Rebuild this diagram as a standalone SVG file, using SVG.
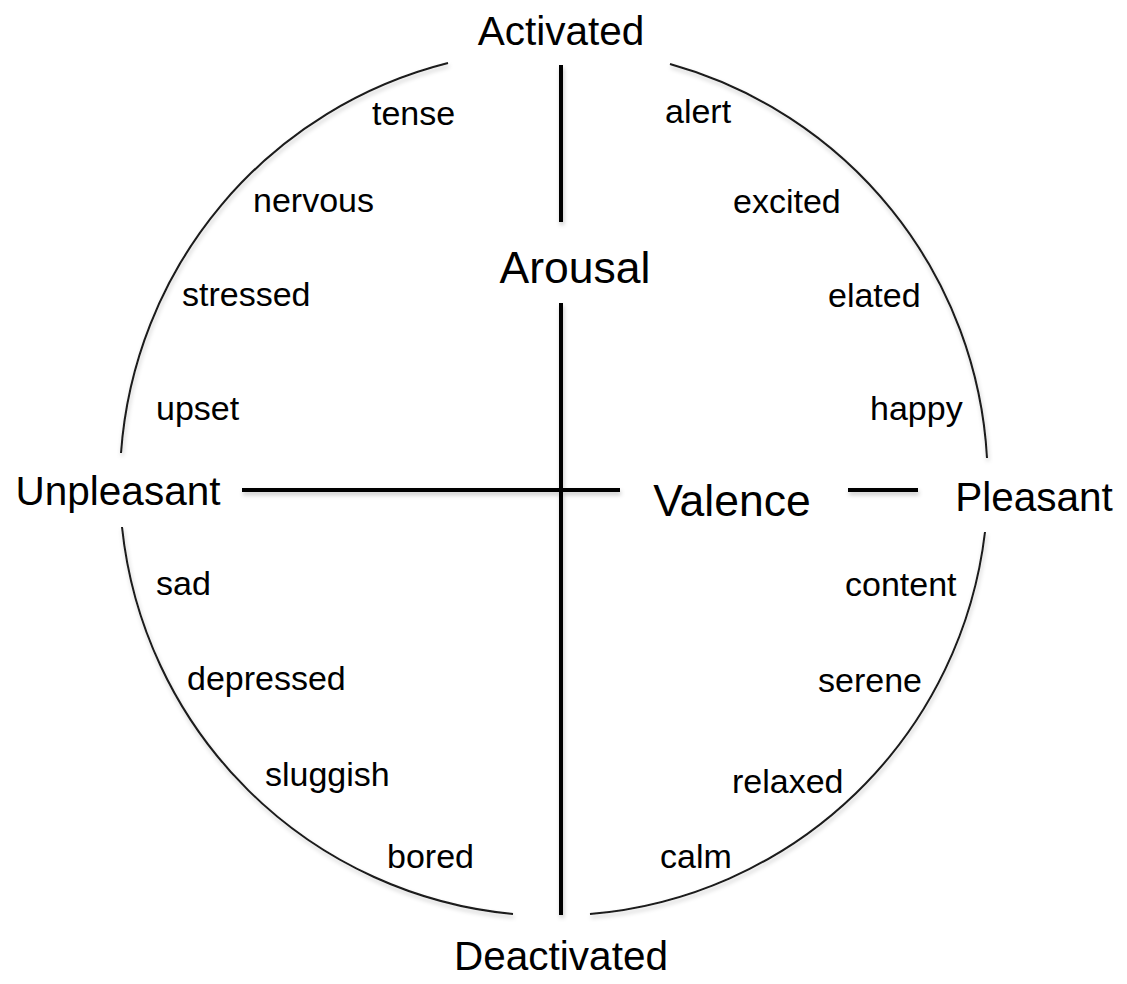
<svg xmlns="http://www.w3.org/2000/svg" width="1127" height="984" viewBox="0 0 1127 984">
<style>
text{font-family:"Liberation Sans",Arial,sans-serif;fill:#000}
.w{font-size:34px}
.pole{font-size:40.5px;text-anchor:middle}
.axis{font-size:44.5px;text-anchor:middle}
.ring{fill:none;stroke:#1a1a1a;stroke-width:2}
.ax{stroke:#000;stroke-width:4;fill:none}
</style>
<defs>
<filter id="sh" x="-10%" y="-10%" width="120%" height="120%">
<feDropShadow dx="1" dy="3" stdDeviation="2" flood-color="#000" flood-opacity="0.22"/>
</filter>
</defs>
<rect width="1127" height="984" fill="#fff"/>
<g id="connectors" filter="url(#sh)">
<path class="ring" d="M448,63 A434,434 0 0 0 121,453"/>
<path class="ring" d="M122,527 A434,434 0 0 0 513,914"/>
<path class="ring" d="M590,914 A434,434 0 0 0 985,532"/>
<path class="ring" d="M987,458 A434,434 0 0 0 670,64"/>
<line class="ax" x1="561" y1="65" x2="561" y2="222"/>
<line class="ax" x1="561" y1="303" x2="561" y2="915"/>
<line class="ax" x1="242" y1="490" x2="620" y2="490"/>
<line class="ax" x1="848" y1="490" x2="918" y2="490"/>
</g>
<g id="activated"><text class="pole" x="561" y="45">Activated</text></g>
<g id="deactivated"><text class="pole" x="561" y="970">Deactivated</text></g>
<g id="unpleasant"><text class="pole" x="118" y="505">Unpleasant</text></g>
<g id="pleasant"><text class="pole" x="1034" y="511">Pleasant</text></g>
<g id="arousal"><text class="axis" x="575" y="283">Arousal</text></g>
<g id="valence"><text class="axis" x="732" y="516">Valence</text></g>
<g id="tense"><text class="w" x="372" y="125">tense</text></g>
<g id="nervous"><text class="w" x="253" y="212">nervous</text></g>
<g id="stressed"><text class="w" x="182" y="306">stressed</text></g>
<g id="upset"><text class="w" x="156" y="420">upset</text></g>
<g id="sad"><text class="w" x="156" y="595">sad</text></g>
<g id="depressed"><text class="w" x="187" y="690">depressed</text></g>
<g id="sluggish"><text class="w" x="265" y="786">sluggish</text></g>
<g id="bored"><text class="w" x="387" y="868">bored</text></g>
<g id="alert"><text class="w" x="665" y="123">alert</text></g>
<g id="excited"><text class="w" x="733" y="213">excited</text></g>
<g id="elated"><text class="w" x="828" y="307">elated</text></g>
<g id="happy"><text class="w" x="870" y="420">happy</text></g>
<g id="content"><text class="w" x="845" y="596">content</text></g>
<g id="serene"><text class="w" x="818" y="692">serene</text></g>
<g id="relaxed"><text class="w" x="732" y="793">relaxed</text></g>
<g id="calm"><text class="w" x="660" y="868">calm</text></g>
</svg>
